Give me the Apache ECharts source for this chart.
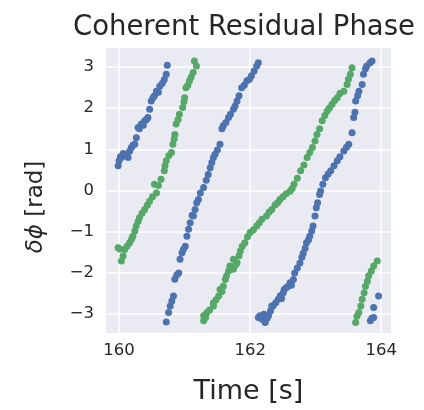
<!DOCTYPE html>
<html>
<head>
<meta charset="utf-8">
<script src="https://cdn.jsdelivr.net/npm/echarts@6/dist/echarts.min.js"></script>
<style>
html,body{margin:0;padding:0;background:#fff;}
#c{width:424px;height:410px;}
</style>
</head>
<body>
<div id="c"></div>
<script>
var titleText = 'Coherent Residual Phase';
var xName = 'Time [s]';
var yNameMath = 'δϕ';
var yNameUnit = ' [rad]';
var xTicks = [160, 162, 164];
var yTicks = [-3, -2, -1, 0, 1, 2, 3];

var blueTime = [
159.985,160.0,160.02,160.035,160.06,160.085,160.11,160.137,160.16,160.187,160.21,160.238,160.263,160.29,160.31,160.34,160.37,160.39,160.42,160.44,160.466,160.49,160.517,160.54,160.57,160.60,160.62,160.66,160.69,160.72,160.735,
160.72,160.755,160.78,160.805,160.83,160.85,160.88,160.91,160.93,160.96,160.98,161.01,161.035,161.06,161.085,161.115,161.135,161.16,161.185,161.21,161.24,161.29,161.33,161.36,161.39,161.415,161.44,161.465,161.50,161.54,161.57,161.59,161.63,161.67,161.70,161.745,161.77,161.80,161.83,161.87,161.91,161.95,161.99,162.02,162.06,162.10,162.125,
162.125,162.15,162.18,162.21,162.23,162.26,162.28,162.31,162.33,162.35,162.39,162.43,162.46,162.48,162.505,162.52,162.55,162.58,162.61,162.63,162.66,162.68,162.72,162.76,162.79,162.81,162.84,162.86,162.89,162.91,162.94,162.96,162.99,163.01,163.03,163.06,163.075,163.11,163.15,163.19,163.23,163.28,163.33,163.37,163.43,163.47,163.505,163.555,163.58,163.60,163.61,163.64,163.66,163.71,163.73,163.76,163.78,163.83,163.86,
163.835,163.86,163.885,163.885,163.96];
var bluePhase = [
0.60,0.72,0.82,0.80,0.90,0.88,0.84,0.80,0.95,1.04,1.10,1.12,1.28,1.53,1.50,1.61,1.58,1.69,1.72,1.77,1.97,2.17,2.25,2.30,2.41,2.38,2.53,2.60,2.69,2.82,3.04,
-3.19,-2.96,-2.80,-2.68,-2.56,-2.15,-2.05,-2.00,-1.67,-1.51,-1.43,-1.35,-1.11,-0.94,-0.78,-0.60,-0.62,-0.46,-0.30,-0.22,-0.06,0.07,0.25,0.39,0.55,0.68,0.80,0.88,0.98,1.12,1.50,1.57,1.65,1.77,1.85,1.97,2.05,2.17,2.30,2.49,2.55,2.66,2.70,2.78,2.90,3.02,3.10,
-3.08,-3.04,-3.12,-3.00,-3.20,-3.10,-3.04,-2.92,-2.80,-2.80,-2.72,-2.64,-2.55,-2.62,-2.48,-2.40,-2.36,-2.32,-2.24,-2.30,-2.16,-2.00,-1.88,-1.76,-1.62,-1.52,-1.40,-1.27,-1.20,-1.11,-0.98,-0.86,-0.62,-0.42,-0.30,-0.10,-0.01,0.15,0.31,0.40,0.48,0.60,0.72,0.82,0.96,1.05,1.12,1.40,1.77,1.90,2.17,2.30,2.41,2.57,2.82,2.95,3.02,3.10,3.14,
-3.16,-3.10,-3.08,-2.84,-2.56];

var greenTime = [
159.985,160.01,160.035,160.06,160.085,160.12,160.16,160.19,160.21,160.24,160.26,160.29,160.31,160.35,160.39,160.43,160.465,160.51,160.54,160.57,160.60,160.64,160.69,160.70,160.72,160.76,160.80,160.82,160.84,160.85,160.87,160.90,160.92,160.97,160.99,161.0,161.02,161.05,161.075,161.10,161.13,161.15,161.18,
161.29,161.29,161.32,161.34,161.38,161.44,161.44,161.48,161.52,161.54,161.57,161.59,161.62,161.64,161.67,161.69,161.745,161.745,161.78,161.80,161.83,161.85,161.88,161.92,161.96,162.0,162.05,162.10,162.14,162.18,162.25,162.29,162.33,162.38,162.42,162.455,162.50,162.55,162.61,162.64,162.67,162.72,162.77,162.82,162.87,162.91,162.95,162.99,163.02,163.06,163.10,163.14,163.175,163.21,163.25,163.29,163.33,163.37,163.43,163.48,163.50,163.53,163.555,
163.61,163.63,163.66,163.69,163.71,163.74,163.76,163.79,163.81,163.85,163.885,163.94];
var greenPhase = [
-1.39,-1.42,-1.71,-1.59,-1.43,-1.35,-1.27,-1.18,-1.11,-0.98,-0.86,-0.75,-0.66,-0.55,-0.46,-0.36,-0.26,-0.15,0.15,-0.06,0.12,0.27,0.48,0.60,0.72,0.85,0.92,1.12,1.25,1.36,1.61,1.72,1.85,2.01,2.15,2.25,2.49,2.55,2.66,2.75,2.86,3.14,3.02,
-3.16,-3.04,-3.08,-2.96,-2.90,-2.80,-2.72,-2.65,-2.56,-2.40,-2.45,-2.32,-2.16,-2.07,-1.95,-1.83,-1.67,-1.91,-1.80,-1.75,-1.58,-1.47,-1.35,-1.27,-1.12,-1.02,-0.95,-0.86,-0.78,-0.70,-0.62,-0.52,-0.46,-0.35,-0.30,-0.22,-0.15,-0.08,-0.02,0.05,0.15,0.30,0.48,0.62,0.80,0.92,1.04,1.20,1.36,1.50,1.69,1.82,1.93,2.00,2.09,2.18,2.25,2.35,2.41,2.57,2.70,2.82,2.98,
-3.20,-3.05,-2.96,-2.80,-2.64,-2.48,-2.32,-2.20,-2.07,-1.95,-1.83,-1.71];

function zip(a, b) { return a.map(function (v, i) { return [v, b[i]]; }); }
function fmt(v) { return v < 0 ? '\u2212' + Math.abs(v) : String(v); }

var chart = echarts.init(document.getElementById('c'), null, {renderer: 'canvas'});
var font = 'DejaVu Sans';
var ink = '#262626';
chart.setOption({
  backgroundColor: '#ffffff',
  animation: false,
  title: {
    text: titleText,
    left: 68, top: 9,
    textStyle: {fontFamily: font, fontSize: 27.5, fontWeight: 'normal', color: ink}
  },
  graphic: [{
    type: 'text',
    x: 36, y: 207, rotation: Math.PI / 2,
    style: {
      text: '{i|' + yNameMath + '}' + yNameUnit,
      font: '23px "DejaVu Sans"', fill: ink,
      align: 'center', verticalAlign: 'middle',
      rich: {i: {fontFamily: font, fontSize: 23, fontStyle: 'italic', fill: ink}}
    }
  }],
  grid: {
    left: 106, right: 33, top: 48, bottom: 76,
    show: true, backgroundColor: '#EAEAF2', borderWidth: 0
  },
  xAxis: {
    type: 'value', min: 159.8, max: 164.15,
    name: xName, nameLocation: 'middle', nameGap: 45,
    nameTextStyle: {fontFamily: font, fontSize: 27, color: ink},
    axisLine: {show: false}, axisTick: {show: false, customValues: xTicks},
    axisLabel: {customValues: xTicks, fontFamily: font, fontSize: 16.5, color: ink, margin: 9},
    splitLine: {show: true, lineStyle: {color: '#ffffff', width: 1.5}}
  },
  yAxis: {
    type: 'value', min: -3.456, max: 3.456,
    axisLine: {show: false}, axisTick: {show: false, customValues: yTicks},
    axisLabel: {customValues: yTicks, formatter: fmt, fontFamily: font, fontSize: 16.5, color: ink, margin: 12},
    splitLine: {show: true, lineStyle: {color: '#ffffff', width: 1.5}}
  },
  series: [
    {type: 'scatter', data: zip(blueTime, bluePhase), symbolSize: 7,
     itemStyle: {color: '#4C72B0', opacity: 1}},
    {type: 'scatter', data: zip(greenTime, greenPhase), symbolSize: 7,
     itemStyle: {color: '#55A868', opacity: 1}}
  ]
});
</script>
</body>
</html>
